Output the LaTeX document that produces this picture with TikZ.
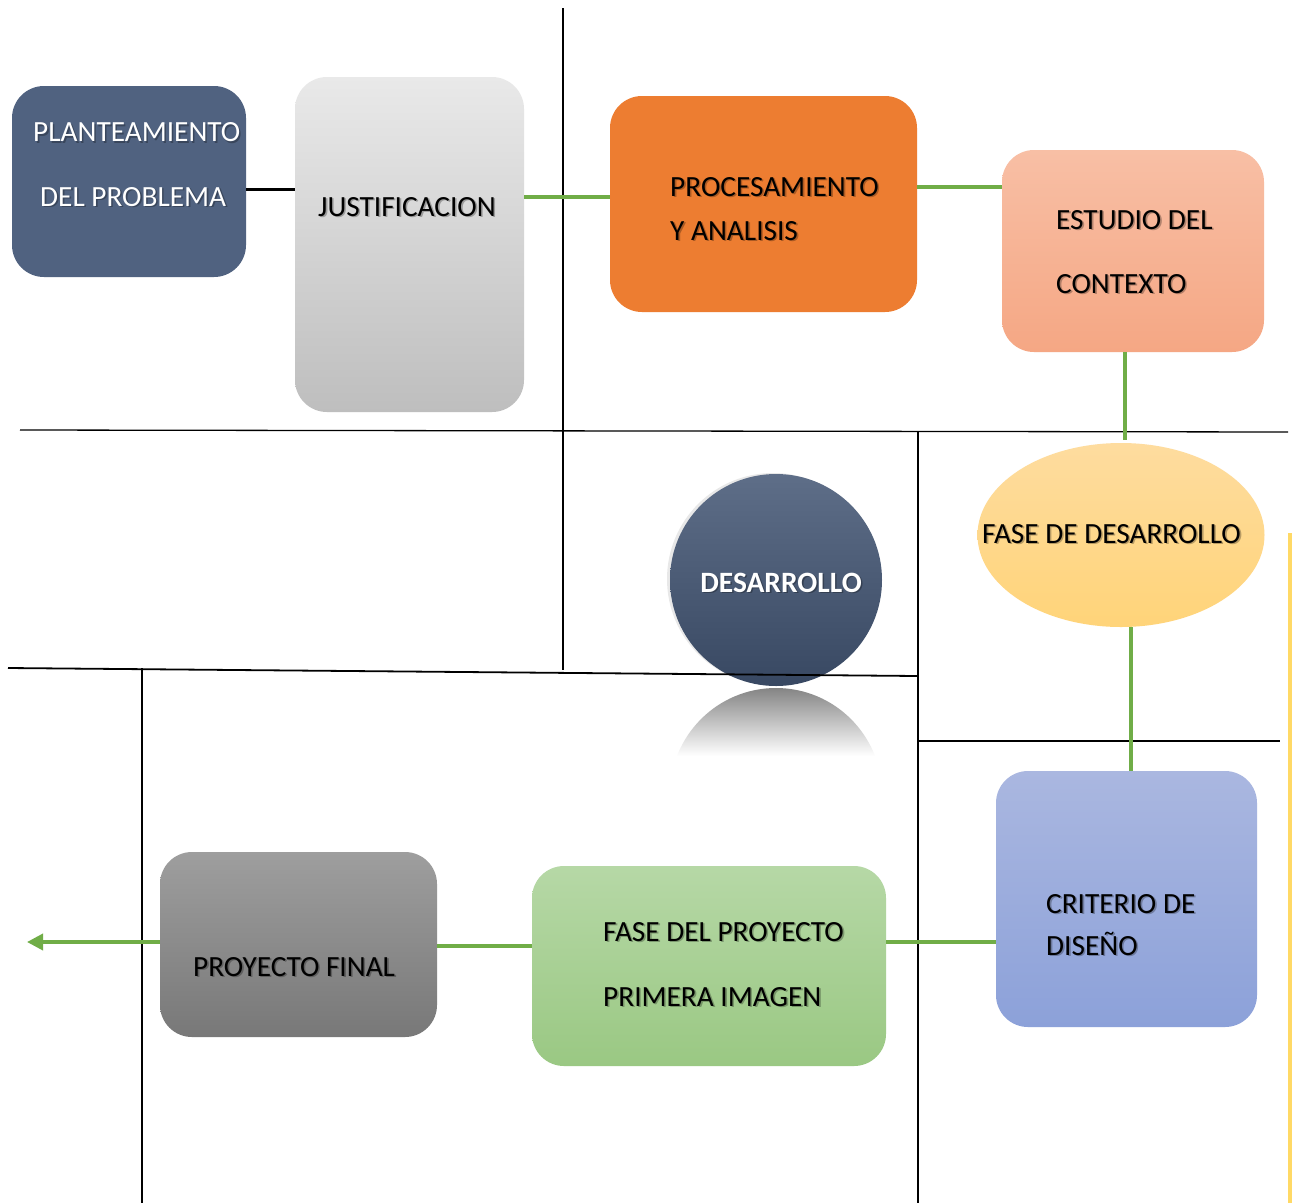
\documentclass[tikz,border=0pt]{standalone}
\usepackage{fontspec}
\setmainfont{Carlito}
\usetikzlibrary{shadows,arrows.meta,shapes.geometric}
\definecolor{grn}{HTML}{70AD47}
\definecolor{plantc}{HTML}{506280}
\definecolor{orangec}{HTML}{ED7D31}
\definecolor{yel}{HTML}{FFD966}
\newcommand{\shtext}[4]{%
  \node[#2,text=black,opacity=0.28,xshift=1.6pt,yshift=-1.6pt] (#1sh) at (#3) {#4};
  \node[#2] (#1) at (#3) {#4};}
\begin{document}
\begin{tikzpicture}[x=1pt,y=-1pt,
  box/.style={draw=none,rounded corners=32pt,inner sep=0pt},
  lbl/.style={anchor=base west,inner sep=0pt,font=\fontsize{29.3}{32}\selectfont},
  lblc/.style={anchor=base,inner sep=0pt,font=\fontsize{29.3}{32}\selectfont},
  gline/.style={draw=grn,line width=3.6pt},
  bline/.style={draw=black,line width=1.8pt}]
\useasboundingbox[fill=white] (0,0) rectangle (1293,1203);

% DESARROLLO circle and its reflection
\node[circle,draw=none,minimum size=212pt,inner sep=0pt,
      top color={rgb,255:red,94;green,110;blue,136},bottom color={rgb,255:red,56;green,72;blue,98},
      drop shadow={shadow xshift=-3pt,shadow yshift=1pt,opacity=0.18}] (des) at (776,580) {};
\shtext{destxt}{anchor=base,inner sep=0pt,text=white,font=\fontsize{29.5}{32}\selectfont\bfseries}{781,592}{DESARROLLO}
\begin{scope}
  \clip (776,794) circle[radius=106pt];
  \shade[top color=black!48,bottom color=white] (660,688) rectangle (890,756);
\end{scope}

% grid lines
\coordinate (v1t) at (563,8);   \coordinate (v1b) at (563,670);
\coordinate (h1l) at (20,430);  \coordinate (h1r) at (1288,432);
\coordinate (v2t) at (918,432); \coordinate (v2b) at (918,1203);
\coordinate (h2l) at (8,668);   \coordinate (h2r) at (918,676);
\coordinate (v3t) at (142,668); \coordinate (v3b) at (142,1203);
\coordinate (h3l) at (918,741); \coordinate (h3r) at (1280,741);
\coordinate (yt) at (1290,533); \coordinate (yb) at (1290,1203);
\draw[bline] (v1t) -- (v1b);
\draw[bline,line width=1.3pt] (h1l) -- (h1r);
\draw[bline] (v2t) -- (v2b);
\draw[bline] (h2l) -- (h2r);
\draw[bline] (v3t) -- (v3b);
\draw[bline] (h3l) -- (h3r);
\draw[draw=yel,line width=4.5pt] (yt) -- (yb);

% boxes
\node[box,fill=plantc,minimum width=234pt,minimum height=191pt] (plant) at (129,181.5) {};
\node[box,top color={rgb,255:red,233;green,233;blue,233},bottom color={rgb,255:red,190;green,190;blue,190},minimum width=229pt,minimum height=335pt] (just) at (409.5,244.5) {};
\node[box,fill=orangec,minimum width=307pt,minimum height=216pt] (proc) at (763.5,204) {};
\node[box,top color={rgb,255:red,248;green,191;blue,165},bottom color={rgb,255:red,245;green,167;blue,132},minimum width=262pt,minimum height=202pt] (est) at (1133,251) {};
\node[ellipse,draw=none,inner sep=0pt,top color={rgb,255:red,254;green,220;blue,159},bottom color={rgb,255:red,255;green,212;blue,121},minimum width=287pt,minimum height=184pt] (fase) at (1121,535) {};
\node[box,top color={rgb,255:red,170;green,183;blue,224},bottom color={rgb,255:red,140;green,161;blue,217},minimum width=261pt,minimum height=256pt] (crit) at (1126.5,899) {};
\node[box,top color={rgb,255:red,182;green,216;blue,166},bottom color={rgb,255:red,154;green,200;blue,131},minimum width=354pt,minimum height=200pt] (proy) at (709,966) {};
\node[box,top color={rgb,255:red,158;green,158;blue,158},bottom color={rgb,255:red,120;green,120;blue,120},minimum width=277pt,minimum height=185pt] (final) at (298.5,944.5) {};

% texts
\shtext{t1}{lbl,text=white}{33,141.5}{PLANTEAMIENTO}
\shtext{t2}{lbl,text=white}{40,206}{DEL PROBLEMA}
\shtext{t3}{lblc}{407,216}{JUSTIFICACION}
\shtext{t4}{lbl}{670,196}{PROCESAMIENTO}
\shtext{t5}{lbl}{670,240}{Y ANALISIS}
\shtext{t6}{lbl}{1056,229}{ESTUDIO DEL}
\shtext{t7}{lbl}{1056,293}{CONTEXTO}
\shtext{t8}{lbl}{982,543}{FASE DE DESARROLLO}
\shtext{t9}{lbl}{1046,913}{CRITERIO DE}
\shtext{t10}{lbl}{1046,955}{DISEÑO}
\shtext{t11}{lbl}{603,941}{FASE DEL PROYECTO}
\shtext{t12}{lbl}{603,1006}{PRIMERA IMAGEN}
\shtext{t13}{lbl}{193,976}{PROYECTO FINAL}

% connectors
\coordinate (arrowend) at (27,942);
\draw[draw=black,line width=3pt] (plant.east |- 0,189) -- (just.west |- 0,189);
\draw[gline] (just.east |- 0,197) -- (proc.west |- 0,197);
\draw[gline] (proc.east |- 0,187) -- (est.west |- 0,187);
\draw[gline] (est.south -| 1125,0) -- (1125,440);
\draw[gline] (fase.south -| 1131,0) -- (crit.north -| 1131,0);
\draw[gline] (crit.west |- 0,942) -- (proy.east |- 0,942);
\draw[gline] (proy.west |- 0,946) -- (final.east |- 0,946);
\draw[gline,-{Triangle[length=16pt,width=16pt]}] (final.west |- 0,942) -- (arrowend);
\end{tikzpicture}
\end{document}
